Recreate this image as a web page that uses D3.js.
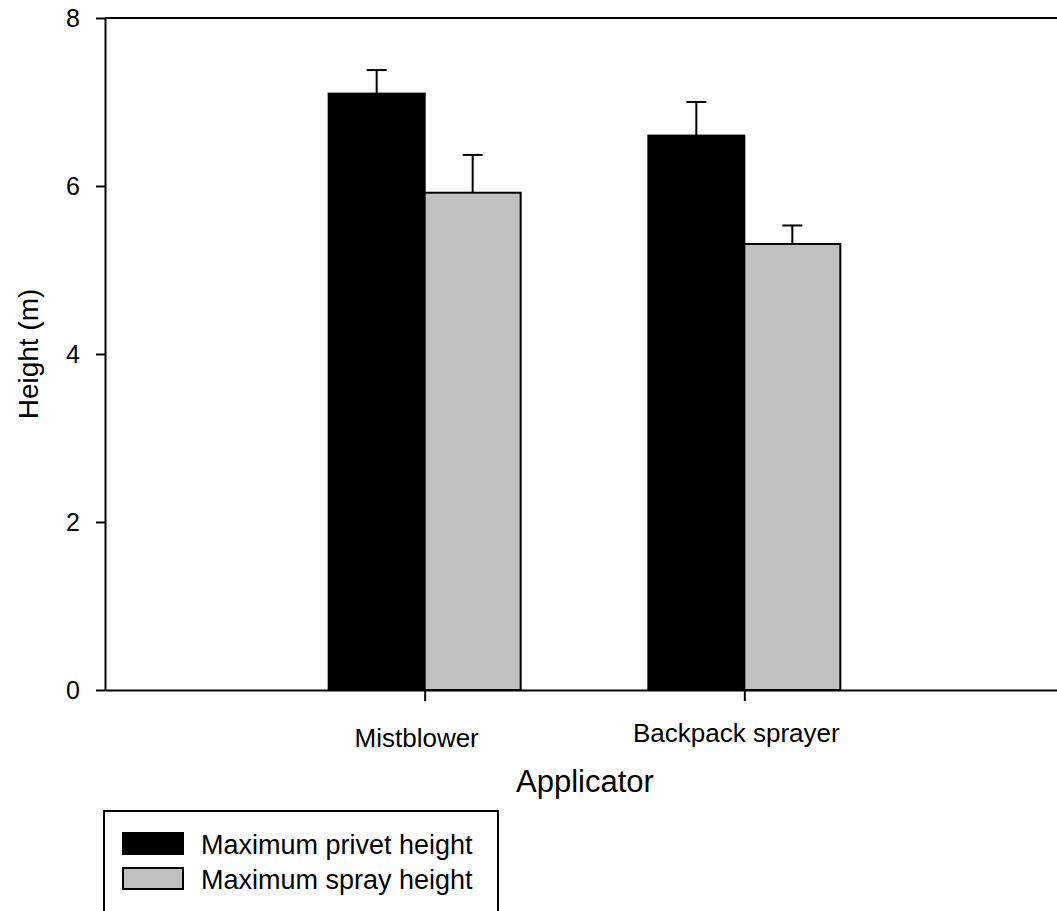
<!DOCTYPE html>
<html>
<head>
<meta charset="utf-8">
<script src="https://cdn.jsdelivr.net/npm/d3@7"></script>
<style>
  body { margin: 0; background: #fff; }
  svg text { font-family: "Liberation Sans", Arial, sans-serif; fill: #000; }
</style>
</head>
<body>
<svg id="chart" width="1057" height="911"></svg>
<script>
// data
var categories = ['Mistblower', 'Backpack sprayer'];
var seriesNames = ['Maximum privet height', 'Maximum spray height'];
var privetHeight = [7.10, 6.60];
var privetErr = [0.28, 0.40];
var sprayHeight = [5.92, 5.31];
var sprayErr = [0.45, 0.22];
var yTicks = [0, 2, 4, 6, 8];
var seriesColors = ['#000000', '#c0c0c0'];

function drawChart() {
    var svg = d3.select('#chart');
    var mLeft = 105, mRight = 1064, mTop = 18, mBottom = 690;

    var y = d3.scaleLinear()
            .domain([0, 8])
            .range([mBottom, mTop]);
    var x = d3.scalePoint()
            .domain(categories)
            .range([mLeft, mRight])
            .padding(1);
    var xSub = d3.scaleBand()
            .domain(seriesNames)
            .range([-96, 96]);

    var rows = [];
    for (let i = 0; i < categories.length; i++) {
        rows.push({cat: categories[i], s: seriesNames[0], v: privetHeight[i], e: privetErr[i], c: seriesColors[0]});
        rows.push({cat: categories[i], s: seriesNames[1], v: sprayHeight[i], e: sprayErr[i], c: seriesColors[1]});
    }
    var cx = d => x(d.cat) + xSub(d.s) + xSub.bandwidth() / 2;

    // upper error bars only
    var errG = svg.append('g');
    errG.selectAll('line.stem')
        .data(rows).enter().append('line')
        .attr('class', 'stem')
        .attr('x1', cx).attr('x2', cx)
        .attr('y1', d => y(d.v))
        .attr('y2', d => y(d.v + d.e))
        .style('stroke', '#000')
        .style('stroke-width', '2px');
    errG.selectAll('line.cap')
        .data(rows).enter().append('line')
        .attr('class', 'cap')
        .attr('x1', d => cx(d) - 10)
        .attr('x2', d => cx(d) + 10)
        .attr('y1', d => y(d.v + d.e))
        .attr('y2', d => y(d.v + d.e))
        .style('stroke', '#000')
        .style('stroke-width', '2px');

    svg.append('g').selectAll('rect')
        .data(rows).enter().append('rect')
        .attr('x', d => x(d.cat) + xSub(d.s))
        .attr('y', d => y(d.v))
        .attr('width', xSub.bandwidth())
        .attr('height', d => y(0) - y(d.v))
        .style('fill', d => d.c)
        .style('stroke', '#000')
        .style('stroke-width', '2px');

    // y axis
    var yAxis = svg.append('g')
        .attr('transform', 'translate(' + mLeft + ',0)')
        .call(d3.axisLeft(y).tickValues(yTicks).tickFormat(d3.format('d'))
              .tickSize(9).tickSizeOuter(0).tickPadding(16));
    yAxis.selectAll('path, line').style('stroke', '#000').style('stroke-width', '2px');
    yAxis.selectAll('text').style('font-size', '25px');

    // x axis
    var xAxis = svg.append('g')
        .attr('transform', 'translate(0,' + mBottom + ')')
        .call(d3.axisBottom(x).tickSize(11).tickSizeOuter(0).tickFormat(''));
    xAxis.selectAll('path, line').style('stroke', '#000').style('stroke-width', '2px');

    // top frame line
    svg.append('line')
        .attr('x1', mLeft).attr('x2', mRight)
        .attr('y1', y(8)).attr('y2', y(8))
        .style('stroke', '#000')
        .style('stroke-width', '2px');

    // category labels
    svg.selectAll('text.catLabel')
        .data(categories).enter().append('text')
        .attr('class', 'catLabel')
        .attr('x', d => x(d) - 8)
        .attr('y', (d, i) => i === 0 ? 747 : 742)
        .attr('text-anchor', 'middle')
        .style('font-size', '26px')
        .text(d => d);

    svg.append('text')
        .attr('x', 585)
        .attr('y', 792)
        .attr('text-anchor', 'middle')
        .style('font-size', '31px')
        .text('Applicator');

    svg.append('text')
        .attr('transform', 'translate(38,' + y(4) + ') rotate(-90)')
        .attr('text-anchor', 'middle')
        .style('font-size', '28px')
        .text('Height (m)');

    // legend
    var leg = svg.append('g').attr('transform', 'translate(104,811)');
    leg.append('rect')
        .attr('x', 0).attr('y', 0)
        .attr('width', 394).attr('height', 120)
        .style('fill', 'none')
        .style('stroke', '#000')
        .style('stroke-width', '2px');
    var items = leg.selectAll('g.item')
        .data(seriesNames).enter().append('g')
        .attr('class', 'item')
        .attr('transform', (d, i) => 'translate(0,' + (22 + i * 35) + ')');
    items.append('rect')
        .attr('x', 19).attr('y', 0)
        .attr('width', 60).attr('height', 21)
        .style('fill', (d, i) => seriesColors[i])
        .style('stroke', '#000')
        .style('stroke-width', '2px');
    items.append('text')
        .attr('x', 97)
        .attr('y', 21)
        .style('font-size', '27px')
        .text(d => d);
}

drawChart();
</script>
</body>
</html>
